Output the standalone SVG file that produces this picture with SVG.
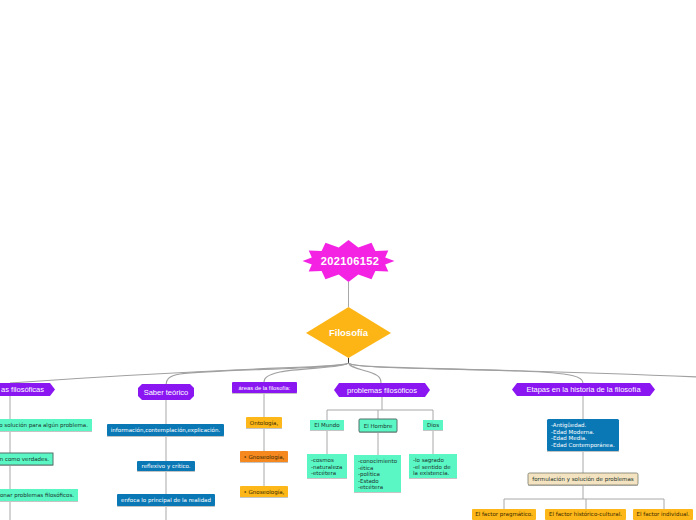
<svg xmlns="http://www.w3.org/2000/svg" width="696" height="520" viewBox="0 0 696 520">
<style>
text{font-family:"Liberation Sans",Arial,sans-serif}
.c{fill:none;stroke:#a0a0a0;stroke-width:1.1}
.v{fill:none;stroke:#a8a8a8;stroke-width:1}
.pur{fill:#8a17f2}
.mint{fill:#5af7c4}
.blue{fill:#0b78b6}
.yel{fill:#fdb718}
.org{fill:#f5891f}
.beige{fill:#f3e3c1;stroke:#7a7a6a;stroke-width:0.8}
.dk{stroke:#55706a;stroke-width:1}
.sh{fill:#c4c4c4}
.t6,.tw6,.ty{font-family:"DejaVu Sans",Verdana,sans-serif;font-size:5.5px}
.t6{fill:#1b332d}
.tw6{fill:#fff}
.ty{fill:#3a2a00}
.th{font-size:7.5px;fill:#fff}
</style>
<g id="connectors">
<line class="v" x1="348.5" y1="282" x2="348.5" y2="307"/>
<line x1="348.5" y1="358" x2="348.5" y2="363" stroke="#333" stroke-width="1"/>
<path class="c" d="M348.5,363 C345,368 250,366 10,383"/>
<path class="c" d="M348.5,363 C344,369 220,369 180,374 C168,376 166,380 166,385"/>
<path class="c" d="M348.5,363 C345,368 300,368 280,372 C267,375 264,378 264,382"/>
<path class="c" d="M348.5,363 C350,368 362,369 372,373 C380,376 381,379 381,383"/>
<path class="c" d="M348.5,363 C352,368 420,368 520,371 C575,373 583,377 583,383"/>
<path class="c" d="M348.5,363 C352,369 450,367 700,377"/>
<line class="v" x1="10" y1="396" x2="10" y2="520"/>
<line class="v" x1="166" y1="400" x2="166" y2="520"/>
<line class="v" x1="264" y1="393" x2="264" y2="486"/>
<path class="v" d="M382,397 V410 M327,410 H433 M327,410 V454 M378,410 V455 M433,410 V454"/>
<path class="v" d="M583,396 V473 M583,485 V499 M504,499 H664 M504,499 V509 M586,499 V509 M664,499 V509"/>
</g>
<g id="n-root">
<polygon points="394.5,261 385.2,264.6 388.3,271.5 375.4,270.9 371.5,279.2 358.3,274.5 348.5,282 338.7,274.5 325.5,279.2 321.6,270.9 308.7,271.5 311.8,264.6 302.5,261 311.8,257.4 308.7,250.5 321.6,251.1 325.5,242.8 338.7,247.5 348.5,240 358.3,247.5 371.5,242.8 375.4,251.1 388.3,250.5 385.2,257.4" fill="#f423e4"/>
<text x="350" y="265" text-anchor="middle" font-size="11" font-weight="bold" fill="#fff" letter-spacing="0.4">202106152</text>
</g>
<g id="n-filosofia">
<polygon points="348.5,307 391,333 348.5,358 306,333" fill="#fdb515"/>
<text x="348.5" y="336" text-anchor="middle" font-size="9.5" font-weight="bold" fill="#fff">Filosofía</text>
</g>
<g id="n-preguntas">
<polygon class="pur" points="-40,383 50,383 55,389.5 50,396 -40,396"/>
<text class="th" x="44" y="392.2" text-anchor="end">as filosóficas</text>
</g>
<g id="n-p1"><rect class="sh" x="-10" y="420" width="102" height="12"/><rect class="mint" x="-10" y="419" width="102" height="12"/><text class="t6" x="88" y="427" text-anchor="end">o solución para algún problema.</text></g>
<g id="n-p2"><rect class="sh" x="-10" y="454" width="63" height="12"/><rect class="mint dk" x="-10" y="453" width="63" height="12"/><text class="t6" x="49" y="461" text-anchor="end">n como verdades.</text></g>
<g id="n-p3"><rect class="sh" x="-10" y="490" width="88" height="12"/><rect class="mint" x="-10" y="489" width="88" height="12"/><text class="t6" x="74" y="497" text-anchor="end">onar problemas filosóficos.</text></g>
<g id="n-saber">
<polygon class="pur" points="142,384 190,384 194,388 194,396 190,400 142,400 138,396 138,388"/>
<text class="th" x="166" y="394.5" text-anchor="middle">Saber teórico</text>
</g>
<g id="n-s1"><rect class="sh" x="107" y="425" width="117" height="12"/><rect class="blue" x="107" y="424" width="117" height="12" rx="1"/><text class="tw6" x="165.5" y="432" text-anchor="middle">información,contemplación,explicación.</text></g>
<g id="n-s2"><rect class="sh" x="137" y="462" width="58" height="10"/><rect class="blue" x="137" y="461" width="58" height="10" rx="1"/><text class="tw6" x="166" y="468" text-anchor="middle">reflexivo y crítico.</text></g>
<g id="n-s3"><rect class="sh" x="117" y="495" width="98" height="12"/><rect class="blue" x="117" y="494" width="98" height="12" rx="1"/><text class="tw6" x="166" y="502" text-anchor="middle">enfoca lo principal de la realidad</text></g>
<g id="n-areas">
<rect class="sh" x="232" y="383" width="65" height="11"/>
<rect class="pur" x="232" y="382" width="65" height="11" rx="1"/>
<text x="264.5" y="389.8" text-anchor="middle" font-size="5.8" fill="#fff" font-family="DejaVu Sans, sans-serif">áreas de la filosofía:</text>
</g>
<g id="n-a1"><rect class="sh" x="246" y="418" width="36" height="11"/><rect class="yel" x="246" y="417" width="36" height="11" rx="1"/><text class="ty" x="264" y="424.6" text-anchor="middle">Ontología,</text></g>
<g id="n-a2"><rect class="sh" x="240" y="452" width="48" height="11"/><rect class="org" x="240" y="451" width="48" height="11" rx="1"/><text class="ty" x="264" y="458.6" text-anchor="middle">• Gnoseología,</text></g>
<g id="n-a3"><rect class="sh" x="240" y="487" width="48" height="11"/><rect class="yel" x="240" y="486" width="48" height="11" rx="1"/><text class="ty" x="264" y="493.6" text-anchor="middle">• Gnoseología,</text></g>
<g id="n-problemas">
<polygon class="pur" points="334,390 339,383 425,383 430,390 425,397 339,397"/>
<text class="th" x="382" y="392.6" text-anchor="middle">problemas filosóficos</text>
</g>
<g id="n-mundo"><rect class="sh" x="310" y="421" width="34" height="10"/><rect class="mint" x="310" y="420" width="34" height="10"/><text class="t6" x="327" y="427" text-anchor="middle">El Mundo</text></g>
<g id="n-hombre"><rect class="sh" x="359" y="420" width="38" height="13"/><rect class="mint dk" x="359" y="419" width="38" height="13" rx="1"/><text class="t6" x="378" y="427.5" text-anchor="middle">El Hombre</text></g>
<g id="n-dios"><rect class="sh" x="423" y="421" width="20" height="10"/><rect class="mint" x="423" y="420" width="20" height="10"/><text class="t6" x="433" y="427" text-anchor="middle">Dios</text></g>
<g id="n-mundo-d"><rect class="sh" x="307" y="455" width="40" height="24"/><rect class="mint" x="307" y="454" width="40" height="24"/><text class="t6" x="311" y="462"><tspan x="311">-cosmos</tspan><tspan x="311" dy="6.6">-naturaleza</tspan><tspan x="311" dy="6.6">-etcétera</tspan></text></g>
<g id="n-hombre-d"><rect class="sh" x="354" y="456" width="47" height="37"/><rect class="mint" x="354" y="455" width="47" height="37"/><text class="t6" x="358" y="463"><tspan x="358">-conocimiento</tspan><tspan x="358" dy="6.5">-ética</tspan><tspan x="358" dy="6.5">-política</tspan><tspan x="358" dy="6.5">-Estado</tspan><tspan x="358" dy="6.5">-etcétera</tspan></text></g>
<g id="n-dios-d"><rect class="sh" x="409" y="455" width="48" height="24"/><rect class="mint" x="409" y="454" width="48" height="24"/><text class="t6" x="413" y="462"><tspan x="413">-lo sagrado</tspan><tspan x="413" dy="6.6">-el sentido de</tspan><tspan x="413" dy="6.6">la existencia.</tspan></text></g>
<g id="n-etapas">
<polygon class="pur" points="512,389.5 517,383 650,383 655,389.5 650,396 517,396"/>
<text class="th" x="583.5" y="392.2" text-anchor="middle">Etapas en la historia de la filosofía</text>
</g>
<g id="n-edades"><rect class="sh" x="547" y="420" width="72" height="32"/><rect class="blue" x="547" y="419" width="72" height="32" rx="1.5"/><text class="tw6" x="551" y="427"><tspan x="551">-Antigüedad.</tspan><tspan x="551" dy="6.6">-Edad Moderna.</tspan><tspan x="551" dy="6.6">-Edad Media.</tspan><tspan x="551" dy="6.6">-Edad Contemporánea.</tspan></text></g>
<g id="n-formulacion"><rect class="sh" x="528" y="474" width="110" height="12"/><rect class="beige" x="528" y="473" width="110" height="12" rx="1.5"/><text class="t6" x="583" y="481" text-anchor="middle">formulación y solución de problemas</text></g>
<g id="n-f1"><rect class="yel" x="472" y="509" width="64" height="11" rx="1"/><text class="ty" x="504" y="516.4" text-anchor="middle">El factor pragmático.</text></g>
<g id="n-f2"><rect class="yel" x="545" y="509" width="81" height="11" rx="1"/><text class="ty" x="585.5" y="516.4" text-anchor="middle">El factor histórico-cultural.</text></g>
<g id="n-f3"><rect class="yel" x="633" y="509" width="60" height="11" rx="1"/><text class="ty" x="663" y="516.4" text-anchor="middle">El factor individual.</text></g>
</svg>
